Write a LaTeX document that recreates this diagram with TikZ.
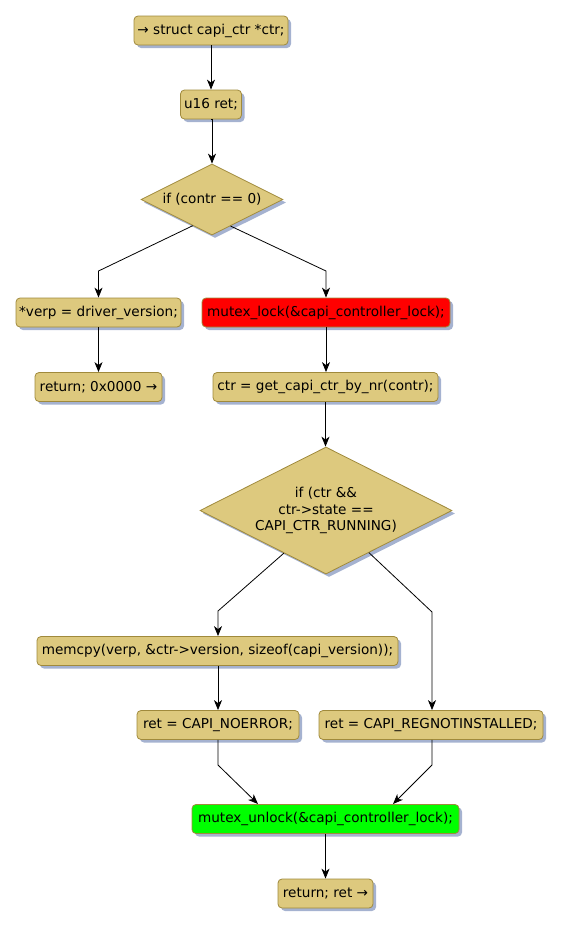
\documentclass[tikz,border=0pt]{standalone}
\usepackage{fontspec}
\setmainfont{DejaVu Sans}
\usetikzlibrary{shapes.geometric,arrows.meta,shadows,calc}
\definecolor{boxfill}{RGB}{221,201,126}
\definecolor{boxdraw}{RGB}{160,138,60}
\definecolor{shade}{RGB}{165,178,208}
\begin{document}
\begin{tikzpicture}[x=1pt,y=-1pt,
  base/.style={fill=boxfill, draw=boxdraw, line width=0.8pt, font=\fontsize{13.6}{16.5}\selectfont,
    drop shadow={shadow xshift=3pt,shadow yshift=-3pt,fill=shade,opacity=1}},
  box/.style={base, rounded corners=4pt, minimum height=29pt, inner sep=0pt},
  dec/.style={base, diamond, aspect=2, inner sep=0pt, align=center},
  conn/.style={line width=0.8pt, -{Stealth[length=10pt,width=8pt,inset=3pt]}},
  plain/.style={line width=0.8pt}
]
\useasboundingbox (0,0) rectangle (563,927);

\node[box, minimum width=154pt] (n1) at (211,30.5) {→ struct capi\_ctr *ctr;};
\node[box, minimum width=61pt] (n2) at (211,104.5) {u16 ret;};
\node[dec, minimum width=142pt, minimum height=71pt] (d1) at (212,199.5) {if (contr == 0)};
\node[box, minimum width=165pt] (n3) at (98.5,312.5) {*verp = driver\_version;};
\node[box, minimum width=248pt, fill=red] (n4) at (326,312.5) {mutex\_lock(\&capi\_controller\_lock);};
\node[box, minimum width=127pt] (n5) at (98.5,387) {return; 0x0000 →};
\node[box, minimum width=225pt] (n6) at (325.5,387) {ctr = get\_capi\_ctr\_by\_nr(contr);};
\node[dec, minimum width=252pt, minimum height=127pt] (d2) at (326,510.5) {if (ctr \&\&\\ctr->state ==\\CAPI\_CTR\_RUNNING)};
\node[box, minimum width=361pt] (n7) at (217.5,651) {memcpy(verp, \&ctr->version, sizeof(capi\_version));};
\node[box, minimum width=162pt] (n8) at (218,725) {ret = CAPI\_NOERROR;};
\node[box, minimum width=224pt] (n9) at (431,725) {ret = CAPI\_REGNOTINSTALLED;};
\node[box, minimum width=267pt, fill=green] (n10) at (325.5,819) {mutex\_unlock(\&capi\_controller\_lock);};
\node[box, minimum width=95pt] (n11) at (325.5,893.5) {return; ret →};

% connectors
\draw[conn] (n1.south) -- (n1.south |- n2.north);
\draw[conn] (n2.south) -- (n2.south -| d1.north) -- (d1.north);

\coordinate (a1) at ($(d1.south)!0.27!(d1.west)$);
\coordinate (a2) at ($(d1.south)!0.26!(d1.east)$);
\coordinate (e1) at (98.5,271);
\coordinate (e2) at (326,271);
\draw[conn] (a1) -- (e1) -- (n3.north);
\draw[conn] (a2) -- (e2) -- (n4.north);

\draw[conn] (n3.south) -- (n5.north);
\draw[conn] (n4.south) -- (n4.south |- n6.north);
\draw[conn] (n6.south) -- (n6.south |- d2.north);

\coordinate (b1) at ($(d2.south)!0.333!(d2.west)$);
\coordinate (b2) at ($(d2.south)!0.34!(d2.east)$);
\coordinate (f1) at (218,611);
\coordinate (f2) at (432,612);
\draw[conn] (b1) -- (f1) -- (f1 |- n7.north);
\draw[conn] (b2) -- (f2) -- (f2 |- n9.north);

\draw[conn] (n7.south -| f1) -- (f1 |- n8.north);

\coordinate (g1) at (218,765);
\coordinate (g2) at (432,765);
\coordinate (h1) at (258,804);
\coordinate (h2) at (393,804);
\draw[conn] (n8.south -| g1) -- (g1) -- (h1);
\draw[conn] (n9.south -| g2) -- (g2) -- (h2);

\draw[conn] (n10.south) -- (n11.north);
\end{tikzpicture}
\end{document}
